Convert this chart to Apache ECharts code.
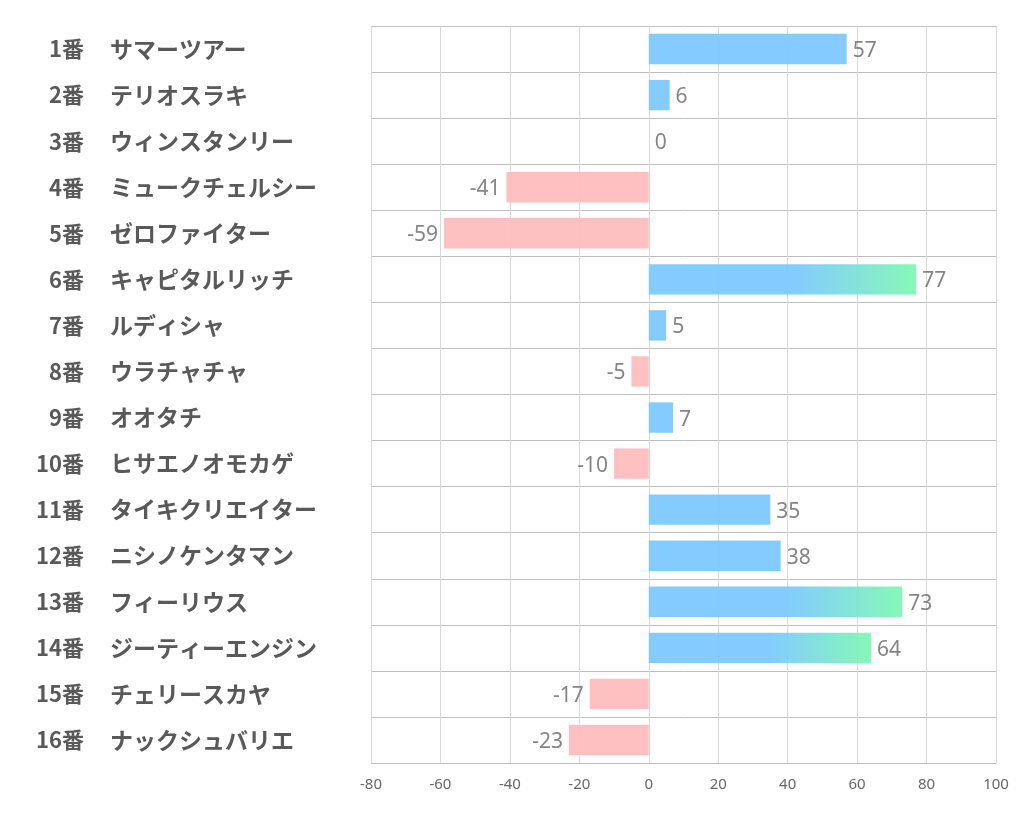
<!DOCTYPE html>
<html><head><meta charset="utf-8">
<script src="https://cdn.jsdelivr.net/npm/echarts@6/dist/echarts.min.js"></script>
<style>html,body{margin:0;padding:0;background:#fff}#c{width:1022px;height:834px}</style>
</head><body><div id="c"></div>
<script>
const numbers = ['1番','2番','3番','4番','5番','6番','7番','8番','9番','10番','11番','12番','13番','14番','15番','16番'];
const names = ['サマーツアー','テリオスラキ','ウィンスタンリー','ミュークチェルシー','ゼロファイター','キャピタルリッチ','ルディシャ','ウラチャチャ','オオタチ','ヒサエノオモカゲ','タイキクリエイター','ニシノケンタマン','フィーリウス','ジーティーエンジン','チェリースカヤ','ナックシュバリエ'];
const values = [57, 6, 0, -41, -59, 77, 5, -5, 7, -10, 35, 38, 73, 64, -17, -23];
const xTicks = [-80, -60, -40, -20, 0, 20, 40, 60, 80, 100];

const BLUE = '#79c8ff', GREEN = '#7cf8b2', PINK = '#ffbbbd';

const data = values.map(v => {
  let color;
  if (v < 0) color = PINK;
  else if (v >= 60) color = new echarts.graphic.LinearGradient(0, 0, 1, 0, [
    {offset: 0, color: BLUE}, {offset: 0.55, color: BLUE}, {offset: 1, color: GREEN}]);
  else color = BLUE;
  return {
    value: v,
    itemStyle: {color: color, opacity: 0.92},
    label: {position: v < 0 ? 'left' : 'right'}
  };
});

const labelFont = {fontWeight: 'bold', color: '#595959', fontFamily: 'Noto Sans CJK JP'};

const chart = echarts.init(document.getElementById('c'));
chart.setOption({
  animation: false,
  grid: {left: 371, right: 26, top: 26, bottom: 71, containLabel: false},
  xAxis: {
    type: 'value', min: xTicks[0], max: xTicks[xTicks.length - 1], interval: 20,
    axisLine: {show: false},
    axisTick: {show: false},
    axisLabel: {color: '#666666', fontSize: 15, fontFamily: 'Liberation Sans Narrow, Noto Sans, sans-serif', margin: 14},
    splitLine: {show: true, lineStyle: {color: '#d9d9d9', width: 1}}
  },
  yAxis: [{
    type: 'category', data: numbers, inverse: true, position: 'left',
    axisLine: {show: false},
    axisTick: {show: false},
    splitLine: {show: true, lineStyle: {color: '#bfbfbf', width: 1}},
    axisLabel: Object.assign({margin: 287, align: 'right', fontSize: 22}, labelFont)
  }, {
    type: 'category', data: names, inverse: true, position: 'left', offset: 0,
    axisLine: {show: false},
    axisTick: {show: false},
    splitLine: {show: false},
    axisLabel: Object.assign({margin: 261, align: 'left', fontSize: 23}, labelFont)
  }],
  series: [{
    type: 'bar', data: data, barCategoryGap: '34%', yAxisIndex: 0,
    label: {show: true, distance: 6, offset: [0, 2], color: '#7a7a7a', fontSize: 21, fontFamily: 'Noto Sans, sans-serif'}
  }]
});
</script></body></html>
